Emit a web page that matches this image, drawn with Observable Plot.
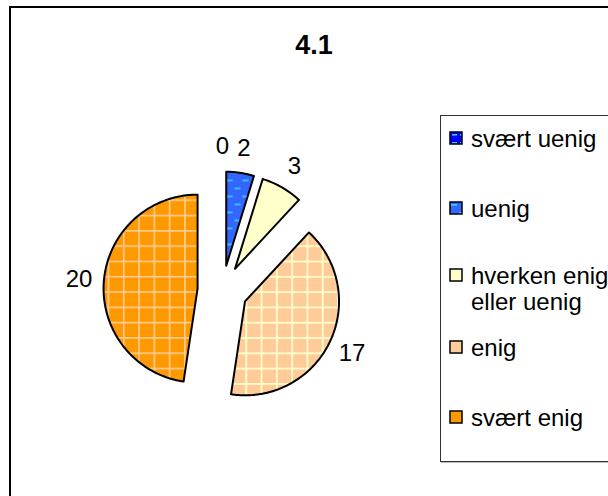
<!DOCTYPE html>
<html>
<head>
<meta charset="utf-8">
<script src="https://cdn.jsdelivr.net/npm/d3@7"></script>
<script src="https://cdn.jsdelivr.net/npm/@observablehq/plot@0.6"></script>
<style>
  html, body { margin: 0; padding: 0; background: #fff; }
  #wrap { position: relative; width: 608px; height: 496px; overflow: hidden; font-family: "Liberation Sans", Arial, sans-serif; }
  #frame { position: absolute; left: 9px; top: 6px; width: 700px; height: 600px; border: 2px solid #000; box-sizing: border-box; }
  #title { position: absolute; left: 0; top: 32px; width: 628px; text-align: center; font-weight: bold; font-size: 27px; line-height: 27px; color: #000; }
  #chart { position: absolute; left: 0; top: 0; }
  #legend { position: absolute; left: 440px; top: 115px; width: 220px; height: 347px; border: 1px solid #333; box-sizing: border-box; background: #fff; box-shadow: 1px 1px 0 #bbb; }
  .item { position: absolute; left: 8px; font-size: 24px; line-height: 26px; color: #000; white-space: pre; }
  .item svg { position: absolute; left: 0; top: 5px; }
  .item span { position: absolute; left: 22px; top: 0; }
</style>
</head>
<body>
<svg width="0" height="0" style="position:absolute">
  <defs>
    <pattern id="pSU" patternUnits="userSpaceOnUse" width="8" height="8">
      <rect width="8" height="8" fill="#0000FF"/>
      <rect x="3" y="3" width="5" height="1.6" fill="#33CCFF"/>
    </pattern>
    <pattern id="pU" patternUnits="userSpaceOnUse" width="16" height="16">
      <rect width="16" height="16" fill="#3366FF"/>
      <rect x="2" y="3" width="6" height="1.8" fill="#33CCFF"/>
      <rect x="10" y="11" width="6" height="1.8" fill="#33CCFF"/>
    </pattern>
    <pattern id="pH" patternUnits="userSpaceOnUse" width="8" height="8">
      <rect width="8" height="8" fill="#FFFFCC"/>
    </pattern>
    <pattern id="pE" patternUnits="userSpaceOnUse" width="15.3" height="15.3">
      <rect width="15.3" height="15.3" fill="#FFCC99"/>
      <rect x="0" y="0" width="15.3" height="1.8" fill="#FFFFCC"/>
      <rect x="0" y="0" width="1.8" height="15.3" fill="#FFFFCC"/>
    </pattern>
    <pattern id="pSE" patternUnits="userSpaceOnUse" width="15.3" height="15.3">
      <rect width="15.3" height="15.3" fill="#FF9900"/>
      <rect x="0" y="0" width="15.3" height="1.6" fill="#FFCC99"/>
      <rect x="0" y="0" width="1.6" height="15.3" fill="#FFCC99"/>
    </pattern>
  </defs>
</svg>
<div id="wrap">
  <div id="frame"></div>
  <div id="chart"></div>
  <div id="title"></div>
  <div id="legend"></div>
</div>
<script>
// ---- data ----
const title = "4.1";
const categories = ["svært uenig", "uenig", "hverken enig eller uenig", "enig", "svært enig"];
const legendLabels = ["svært uenig", "uenig", "hverken enig\neller uenig", "enig", "svært enig"];
const values = [0, 2, 3, 17, 20];
const valueLabels = ["0", "2", "3", "17", "20"];

// ---- styling ----
const fills = ["url(#pSU)", "url(#pU)", "url(#pH)", "url(#pE)", "url(#pSE)"];
const explode = 25 / 94;
const labelRadius = 1.53;

const arcs = d3.pie().sort(null).value(d => d)(values);

const slices = [];
arcs.forEach((a, i) => {
  if (!(values[i] > 0)) return;
  const cat = categories[i];
  const mid = (a.startAngle + a.endAngle) / 2;
  const ox = explode * Math.sin(mid), oy = explode * Math.cos(mid);
  slices.push({cat, x: ox, y: oy});
  const n = Math.max(2, Math.ceil((a.endAngle - a.startAngle) / 0.02));
  for (let k = 0; k <= n; k++) {
    const t = a.startAngle + (a.endAngle - a.startAngle) * k / n;
    slices.push({cat, x: ox + Math.sin(t), y: oy + Math.cos(t)});
  }
});

const labelData = arcs.map((a, i) => {
  const mid = (a.startAngle + a.endAngle) / 2;
  return {text: valueLabels[i], x: labelRadius * Math.sin(mid), y: labelRadius * Math.cos(mid)};
});

const chart = Plot.plot({
  width: 608,
  height: 496,
  margin: 0,
  style: {fontFamily: "'Liberation Sans', Arial, sans-serif", background: "transparent", overflow: "visible"},
  x: {domain: [-1, 1], range: [128, 316], axis: null},
  y: {domain: [-1, 1], range: [384, 196], axis: null},
  color: {domain: categories, range: fills},
  marks: [
    Plot.line(slices, {x: "x", y: "y", z: "cat", fill: "cat", stroke: "#000", strokeWidth: 2, strokeLinejoin: "round", curve: "linear-closed"}),
    Plot.text(labelData, {x: "x", y: "y", text: "text", fontSize: 24, fill: "#000"})
  ]
});
document.getElementById("chart").appendChild(chart);
document.getElementById("title").textContent = title;

// legend
const legend = document.getElementById("legend");
const rowTops = [10, 80, 147, 219, 289];
legendLabels.forEach((lab, i) => {
  const row = document.createElement("div");
  row.className = "item";
  row.style.top = rowTops[i] + "px";
  row.innerHTML = `<svg width="14" height="14"><rect x="1" y="1" width="12" height="12" fill="${fills[i]}" stroke="#000" stroke-width="1.5"/></svg><span></span>`;
  row.querySelector("span").textContent = lab;
  legend.appendChild(row);
});
</script>
</body>
</html>
